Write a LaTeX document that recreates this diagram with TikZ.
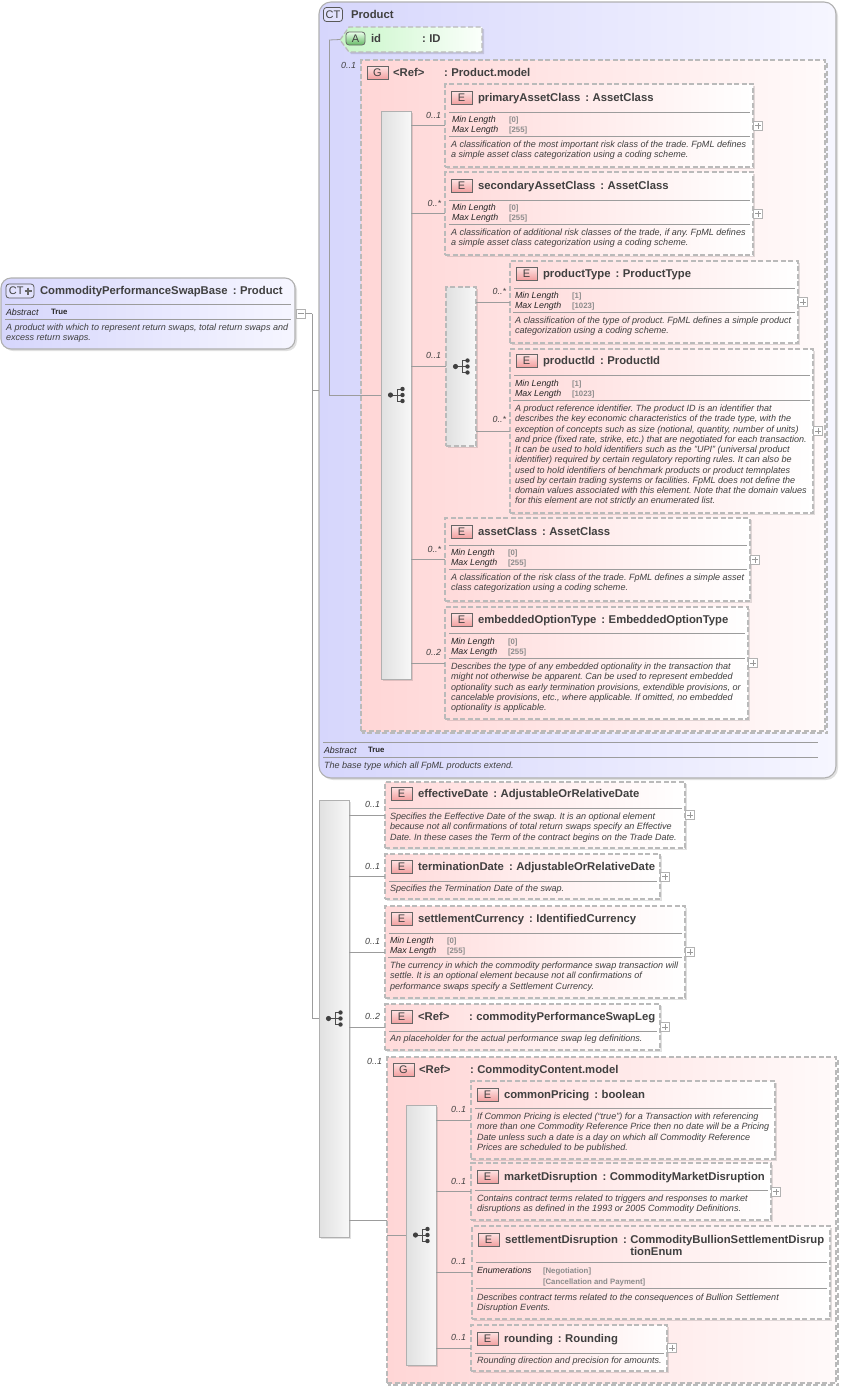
\documentclass[tikz,border=0pt]{standalone}
\usepackage{fontspec}
\setmainfont{Liberation Sans}
\usetikzlibrary{shadows,calc}
\definecolor{txt}{HTML}{404040}
\definecolor{dashc}{HTML}{BABABA}
\definecolor{linec}{HTML}{9C9C9C}
\definecolor{valc}{HTML}{8C8C8C}
\definecolor{blueL}{HTML}{D6D6FC}
\definecolor{blueR}{HTML}{F6F6FF}
\definecolor{pinkL}{HTML}{FFD6D6}
\definecolor{pinkR}{HTML}{FFFAFA}
\definecolor{elL}{HTML}{FFDADA}
\definecolor{elR}{HTML}{FFFFFF}
\definecolor{iconL}{HTML}{FFE4E4}
\definecolor{iconR}{HTML}{F2A0A0}
\definecolor{greenL}{HTML}{C8F6C8}
\definecolor{greenR}{HTML}{FBFFFB}
\tikzset{
  softshadow/.style={drop shadow={shadow xshift=2pt,shadow yshift=-2pt,fill=black,opacity=.12}},
  dashline/.style={draw=dashc,line width=1.3pt,dash pattern=on 5pt off 2.5pt},
  elbox/.style={dashline,left color=elL,right color=elR,softshadow},
  grpbox/.style={dashline,left color=pinkL,right color=pinkR},
  ctbox/.style={draw=linec!80,line width=1.1pt,rounded corners=10pt,left color=blueL,right color=blueR,softshadow},
  seqbar/.style={draw=linec!80,line width=.9pt,left color=black!12,right color=black!3,softshadow},
  seqdash/.style={dashline,left color=black!12,right color=black!3,softshadow},
  conn/.style={draw=linec,line width=.8pt},
  sepl/.style={draw=linec,line width=.9pt},
  ttl/.style={anchor=base west,inner sep=0,outer sep=0,text=txt,font=\fontsize{11.3}{13}\selectfont\bfseries},
  dsc/.style={anchor=north west,inner sep=0,outer sep=0,align=left,text=txt,font=\frenchspacing\fontsize{9.05}{10.25}\selectfont\itshape},
  key/.style={anchor=base west,inner sep=0,outer sep=0,text=black!85,font=\fontsize{8.85}{10}\selectfont\itshape},
  val/.style={anchor=base west,inner sep=0,outer sep=0,text=valc,font=\fontsize{7.8}{10}\selectfont\bfseries},
  occ/.style={anchor=base east,inner sep=0,outer sep=0,text=txt,font=\fontsize{8.85}{10}\selectfont\itshape},
  iconbox/.style={draw=black!60,line width=.8pt,top color=iconL,bottom color=iconR,inner sep=0,outer sep=0,
     minimum width=21pt,minimum height=13pt,text=txt,font=\fontsize{11}{12}\selectfont},
  ctic/.style={draw=black!65,line width=.8pt,rounded corners=3pt,fill=blueL!70,inner sep=0,outer sep=0,
     minimum height=14pt,text=txt,font=\fontsize{11}{12}\selectfont},
  pmbox/.style={draw=black!30,line width=.7pt,fill=white,inner sep=0,outer sep=0,minimum width=9pt,minimum height=9pt,anchor=west},
  pmline/.style={draw=black!40,line width=.7pt}
}
\newcommand{\boxnode}[6]{%
  \pgfmathsetmacro\bw{#5-#3}\pgfmathsetmacro\bh{#6-#4}%
  \node[#2,anchor=north west,minimum width=\bw pt,minimum height=\bh pt,inner sep=0,outer sep=0] (#1) at (#3,#4) {};}
% id x1 y1 x2 y2 name type titley sepy
\newcommand{\elem}[9]{%
  \boxnode{#1}{elbox}{#2}{#3}{#4}{#5}%
  \node[iconbox,anchor=north west] (#1-icon) at (#2+6,#8-6) {E};%
  \node[ttl] (#1-name) at (#2+33,#8+4) {#6};%
  \node[ttl] (#1-colon) at ([xshift=5pt]#1-name.base east) {:};%
  \node[ttl] (#1-type) at ([xshift=3.5pt]#1-colon.base east) {#7};%
  \draw[sepl] (#2+4,#9) -- (#4-3,#9);}
% group: id x1 y1 x2 y2 name type titley
\newcommand{\grp}[8]{%
  \draw[dashline] (#2+2,#3+2) rectangle (#4+2,#5+2);%
  \boxnode{#1}{grpbox}{#2}{#3}{#4}{#5}%
  \node[iconbox,anchor=north west] (#1-icon) at (#2+6,#8-6) {G};%
  \node[ttl] (#1-name) at (#2+32,#8+4) {#6};%
  \node[ttl] (#1-colon) at ([xshift=0pt]#1-name.base east) {:};%
  \node[ttl] (#1-type) at ([xshift=3.5pt]#1-colon.base east) {#7};}
\newcommand{\minrow}[4]{%
  \node[key] (#1-mink) at (#2,#3+3) {Min Length};%
  \node[val] (#1-minv) at (#2+57,#3+3) {[#4]};}
\newcommand{\maxrow}[4]{%
  \node[key] (#1-maxk) at (#2,#3+3) {Max Length};%
  \node[val] (#1-maxv) at (#2+57,#3+3) {[#4]};}
\newcommand{\desc}[4]{\node[dsc] (#1-desc) at (#2,#3-3) {#4};}
\newcommand{\plusb}[1]{%
  \node[pmbox] (#1-plus) at ([xshift=.5pt]#1.east) {};%
  \draw[pmline] ([xshift=-3pt]#1-plus.center) -- ([xshift=3pt]#1-plus.center);%
  \draw[pmline] ([yshift=-3pt]#1-plus.center) -- ([yshift=3pt]#1-plus.center);}
\newcommand{\seqicon}[1]{%
  \begin{scope}[shift={(#1.center)}]
    \draw[black!70,line width=.9pt] (-5.5,0) -- (6.5,0) (1,-6) -- (1,6) (1,-6) -- (6.5,-6) (1,6) -- (6.5,6);
    \fill[black!75] (-5.5,0) circle (2.6pt) (6.5,-6) circle (2.2pt) (6.5,0) circle (2.2pt) (6.5,6) circle (2.2pt);
  \end{scope}}
\begin{document}
\begin{tikzpicture}[x=1pt,y=-1pt]
\useasboundingbox (0,0) rectangle (844,1390);
% root type
\boxnode{root}{ctbox}{1}{278}{295}{349}
\node[ctic,minimum width=28pt,anchor=north west,text width=26pt,align=left] (root-icon) at (6,284) {\,CT};
\draw[black!60,line width=2.2pt] (24.5,291) -- (31.5,291) (28,287.5) -- (28,294.5);
\node[ttl] (root-name) at (40,294) {CommodityPerformanceSwapBase};
\node[ttl] (root-colon) at ([xshift=5pt]root-name.base east) {:};
\node[ttl] (root-type) at ([xshift=3.5pt]root-colon.base east) {Product};
\draw[sepl] (5,304) -- (291,304);
\node[key] (root-abs) at (6,315) {Abstract};
\node[val,text=black!85] (root-true) at (51,314.5) {True};
\draw[sepl] (5,319) -- (291,319);
\desc{root}{6}{327}{A product with which to represent return swaps, total return swaps and\\excess return swaps.}
\node[pmbox] (root-minus) at (296,313.5) {};
\draw[pmline] ([xshift=-3pt]root-minus.center) -- ([xshift=3pt]root-minus.center);
% product base
\boxnode{prod}{ctbox,rounded corners=12pt}{319}{2}{836}{778}
\node[ctic,minimum width=19pt,anchor=north west] (prod-icon) at (323.5,7.5) {CT};
\node[ttl] (prod-name) at (351,18) {Product};
\draw[sepl] (323,742) -- (818,742);
\node[key] (prod-abs) at (324,753) {Abstract};
\node[val,text=black!85] (prod-true) at (368,752.5) {True};
\draw[sepl] (323,757) -- (818,757);
\desc{prod}{324}{765}{The base type which all FpML products extend.}
% attribute
\node[inner sep=0,outer sep=0,minimum width=142pt,minimum height=25pt,anchor=north west] (attr) at (340,27) {};
\draw[dashline,left color=greenL,right color=greenR,softshadow]
   (340,40) -- (349,27) -- (482,27) -- (482,52) -- (349,52) -- cycle;
\node[iconbox,top color=green!8,bottom color=green!55!black!60,anchor=north west,minimum width=19pt,rounded corners=3pt] (attr-icon) at (346,32) {A};
\node[ttl] (attr-name) at (371,42) {\makebox[46pt][l]{id}};
\node[ttl] (attr-colon) at ([xshift=5pt]attr-name.base east) {:};
\node[ttl] (attr-type) at ([xshift=3.5pt]attr-colon.base east) {ID};
% product model
\grp{pm}{361}{60}{825}{731}{\makebox[51pt][l]{<Ref>}}{Product.model}{72}
\boxnode{seqa}{seqbar}{381}{111}{411}{679}
\seqicon{seqa}
\boxnode{seqb}{seqdash}{446}{287}{476}{446}
\seqicon{seqb}
\elem{pac}{445}{84}{753}{167}{primaryAssetClass}{AssetClass}{97}{112}
\minrow{pac}{452}{119}{0}\maxrow{pac}{452}{129}{255}
\draw[sepl] (449,136) -- (750,136);
\desc{pac}{451}{144}{A classification of the most important risk class of the trade. FpML defines\\a simple asset class categorization using a coding scheme.}
\plusb{pac}
\elem{sac}{445}{172}{753}{255}{secondaryAssetClass}{AssetClass}{185}{200}
\minrow{sac}{452}{207}{0}\maxrow{sac}{452}{217}{255}
\draw[sepl] (449,224) -- (750,224);
\desc{sac}{451}{232}{A classification of additional risk classes of the trade, if any. FpML defines\\a simple asset class categorization using a coding scheme.}
\plusb{sac}
\elem{pty}{510}{261}{798}{343}{productType}{ProductType}{273}{288}
\minrow{pty}{515}{295}{1}\maxrow{pty}{515}{305}{1023}
\draw[sepl] (513,312) -- (795,312);
\desc{pty}{515}{320}{A classification of the type of product. FpML defines a simple product\\categorization using a coding scheme.}
\plusb{pty}
\elem{pid}{510}{349}{813}{513}{productId}{ProductId}{360}{375}
\minrow{pid}{515}{383}{1}\maxrow{pid}{515}{393}{1023}
\draw[sepl] (513,400) -- (810,400);
\desc{pid}{515}{408}{A product reference identifier. The product ID is an identifier that\\describes the key economic characteristics of the trade type, with the\\exception of concepts such as size (notional, quantity, number of units)\\and price (fixed rate, strike, etc.) that are negotiated for each transaction.\\It can be used to hold identifiers such as the "UPI" (universal product\\identifier) required by certain regulatory reporting rules. It can also be\\used to hold identifiers of benchmark products or product temnplates\\used by certain trading systems or facilities. FpML does not define the\\domain values associated with this element. Note that the domain values\\for this element are not strictly an enumerated list.}
\plusb{pid}
\elem{ac}{445}{518}{750}{601}{assetClass}{AssetClass}{531}{545}
\minrow{ac}{451}{552}{0}\maxrow{ac}{451}{562}{255}
\draw[sepl] (449,569) -- (747,569);
\desc{ac}{451}{577}{A classification of the risk class of the trade. FpML defines a simple asset\\class categorization using a coding scheme.}
\plusb{ac}
\elem{eot}{445}{607}{748}{719}{embeddedOptionType}{EmbeddedOptionType}{619}{633}
\minrow{eot}{451}{641}{0}\maxrow{eot}{451}{651}{255}
\draw[sepl] (449,658) -- (745,658);
\desc{eot}{451}{666}{Describes the type of any embedded optionality in the transaction that\\might not otherwise be apparent. Can be used to represent embedded\\optionality such as early termination provisions, extendible provisions, or\\cancelable provisions, etc., where applicable. If omitted, no embedded\\optionality is applicable.}
\plusb{eot}
% main sequence
\boxnode{seqm}{seqbar}{319}{800}{349}{1237}
\seqicon{seqm}
\elem{ed}{385}{782}{685}{848}{effectiveDate}{AdjustableOrRelativeDate}{793}{808}
\desc{ed}{390}{816}{Specifies the Eeffective Date of the swap. It is an optional element\\because not all confirmations of total return swaps specify an Effective\\Date. In these cases the Term of the contract begins on the Trade Date.}
\plusb{ed}
\elem{td}{385}{854}{660}{899}{terminationDate}{AdjustableOrRelativeDate}{866}{881}
\desc{td}{390}{888}{Specifies the Termination Date of the swap.}
\plusb{td}
\elem{sc}{385}{906}{685}{998}{settlementCurrency}{IdentifiedCurrency}{918}{933}
\minrow{sc}{390}{940}{0}\maxrow{sc}{390}{950}{255}
\draw[sepl] (388,957) -- (682,957);
\desc{sc}{390}{965}{The currency in which the commodity performance swap transaction will\\settle. It is an optional element because not all confirmations of\\performance swaps specify a Settlement Currency.}
\plusb{sc}
\elem{leg}{385}{1004}{660}{1050}{\makebox[46pt][l]{<Ref>}}{commodityPerformanceSwapLeg}{1016}{1031}
\desc{leg}{390}{1038}{An placeholder for the actual performance swap leg definitions.}
\plusb{leg}
% commodity content
\grp{cc}{387}{1057}{836}{1383}{\makebox[51pt][l]{<Ref>}}{CommodityContent.model}{1069}
\boxnode{seqc}{seqbar}{406}{1105}{436}{1365}
\seqicon{seqc}
\elem{cp}{471}{1081}{775}{1159}{commonPricing}{boolean}{1094}{1108}
\desc{cp}{477}{1116}{If Common Pricing is elected (“true”) for a Transaction with referencing\\more than one Commodity Reference Price then no date will be a Pricing\\Date unless such a date is a day on which all Commodity Reference\\Prices are scheduled to be published.}
\elem{md}{471}{1163}{771}{1220}{marketDisruption}{CommodityMarketDisruption}{1176}{1190}
\desc{md}{477}{1198}{Contains contract terms related to triggers and responses to market\\disruptions as defined in the 1993 or 2005 Commodity Definitions.}
\plusb{md}
\elem{sd}{472}{1226}{830}{1319}{settlementDisruption}{CommodityBullionSettlementDisrup}{1239}{1262}
\node[ttl] (sd-type2) at ([yshift=-12pt]sd-type.base west) {tionEnum};
\node[key] (sd-enum) at (477,1273) {Enumerations};
\node[val] (sd-v1) at (543,1273) {[Negotiation]};
\node[val] (sd-v2) at (543,1284) {[Cancellation and Payment]};
\draw[sepl] (476,1288) -- (827,1288);
\desc{sd}{477}{1297}{Describes contract terms related to the consequences of Bullion Settlement\\Disruption Events.}
\elem{rd}{471}{1325}{667}{1371}{rounding}{Rounding}{1338}{1353}
\desc{rd}{477}{1360}{Rounding direction and precision for amounts.}
\plusb{rd}
% connectors
\coordinate (trunk) at (312,313.5);
\draw[conn] (root-minus.east) -- (trunk);
\draw[conn] (trunk) |- (prod.west);
\draw[conn] (trunk) |- (seqm.west);
\coordinate (ptrunk) at (329,40);
\draw[conn] (attr.west) -- (ptrunk);
\draw[conn] (ptrunk) |- (pm.west);
\draw[conn] (pm.west) -- (seqa.west |- pm.west);
\foreach \n in {pac,sac,ac,eot} {\draw[conn] (seqa.east |- \n.west) -- (\n.west);}
\draw[conn] (seqa.east |- seqb.west) -- (seqb.west);
\foreach \n in {pty,pid} {\draw[conn] (seqb.east |- \n.west) -- (\n.west);}
\foreach \n in {ed,td,sc,leg,cc} {\draw[conn] (seqm.east |- \n.west) -- (\n.west);}
\draw[conn] (cc.west |- seqc.west) -- (seqc.west);
\foreach \n in {cp,md,sd,rd} {\draw[conn] (seqc.east |- \n.west) -- (\n.west);}
% occurrences
\node[occ] (o1) at (356,68) {0..1};
\node[occ] (o2) at (441,118) {0..1};
\node[occ] (o3) at (441,206) {0..*};
\node[occ] (o4) at (441,358) {0..1};
\node[occ] (o5) at (506,294) {0..*};
\node[occ] (o6) at (506,422) {0..*};
\node[occ] (o7) at (441,552) {0..*};
\node[occ] (o8) at (441,655) {0..2};
\node[occ] (o9) at (380,807) {0..1};
\node[occ] (o10) at (380,869) {0..1};
\node[occ] (o11) at (380,944) {0..1};
\node[occ] (o12) at (380,1019) {0..2};
\node[occ] (o13) at (382,1064) {0..1};
\node[occ] (o14) at (466,1112) {0..1};
\node[occ] (o15) at (466,1184) {0..1};
\node[occ] (o16) at (466,1264) {0..1};
\node[occ] (o17) at (466,1340) {0..1};
\end{tikzpicture}
\end{document}
